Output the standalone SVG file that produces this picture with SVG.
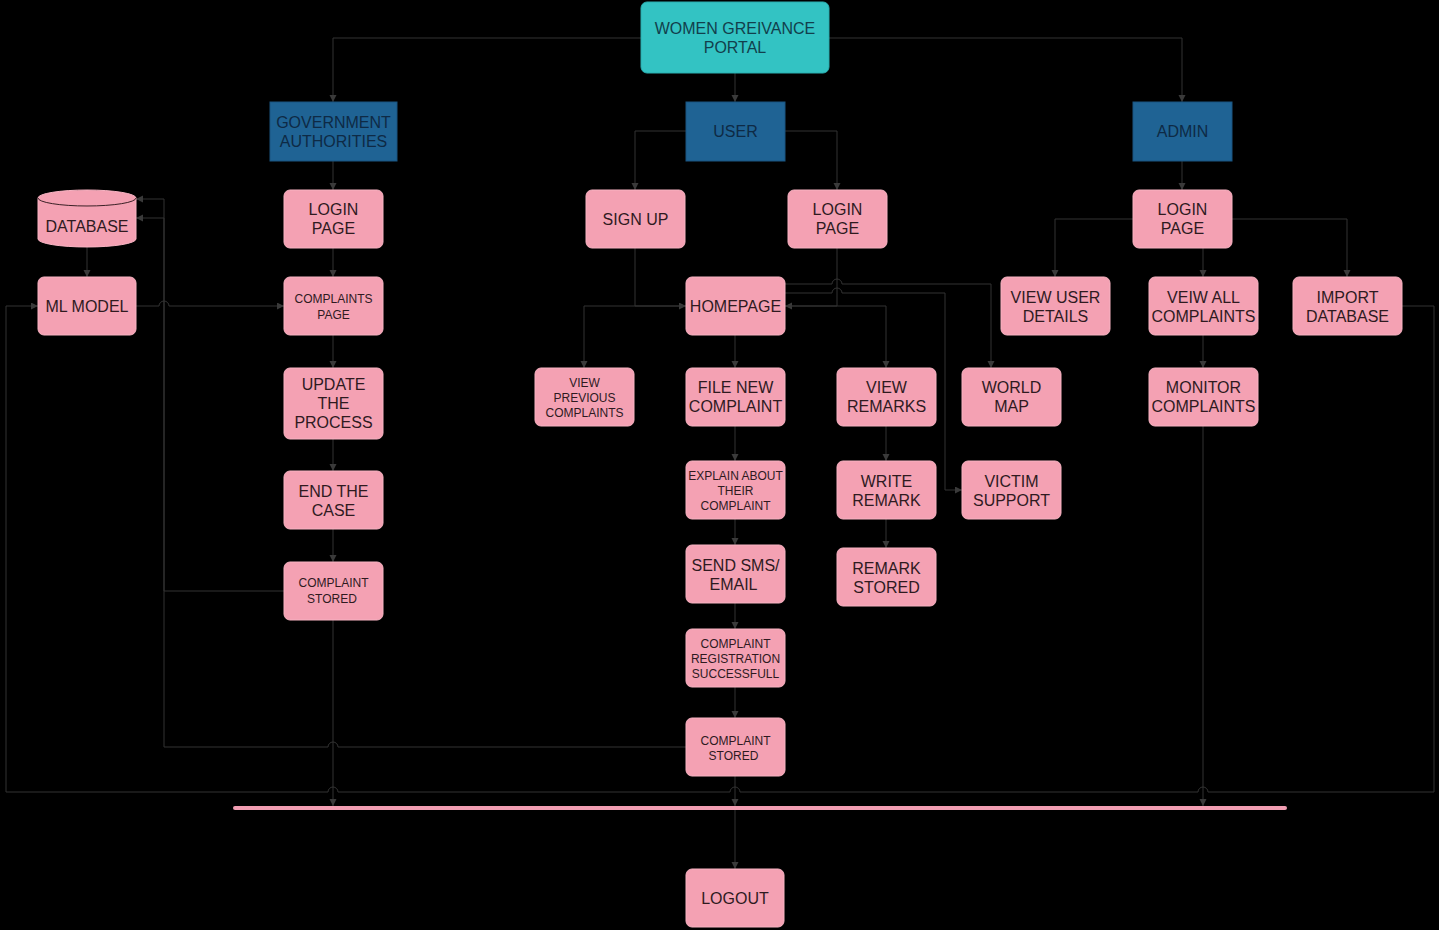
<svg xmlns="http://www.w3.org/2000/svg" width="1439" height="930" viewBox="0 0 1439 930">
<defs>
<marker id="arr" markerUnits="userSpaceOnUse" markerWidth="8" markerHeight="8" refX="7" refY="3.5" orient="auto">
<path d="M0,0 L7,3.5 L0,7 z" fill="#3a3a3a"/>
</marker>
<style>
.bg{fill:#000}
.pk{fill:#f4a1b3;stroke:#f7b3c2;stroke-width:1}
.tl{fill:#33c3c3;stroke:#2aaeb0;stroke-width:1}
.bl{fill:#1f6394;stroke:#1a5580;stroke-width:1}
.t{font-family:"Liberation Sans",Arial,sans-serif;font-size:16px;fill:#2f1a1f;text-anchor:middle}
.s{font-family:"Liberation Sans",Arial,sans-serif;font-size:12px;fill:#2f1a1f;text-anchor:middle}
.tt{fill:#123f4c}
.tb{fill:#0e2a45}
.c{fill:none;stroke:#333;stroke-width:1}
.a{marker-end:url(#arr)}
</style>
</defs>
<rect class="bg" x="0" y="0" width="1439" height="930"/>

<g id="connectors">
<path class="c a" d="M641,38 H333 V102"/>
<path class="c a" d="M735,73 V102"/>
<path class="c a" d="M829,38 H1182 V102"/>
<path class="c a" d="M333,161 V190"/>
<path class="c a" d="M333,248 V277"/>
<path class="c a" d="M333,335 V368"/>
<path class="c a" d="M333,439 V471"/>
<path class="c a" d="M333,529 V562"/>
<path class="c a" d="M284,591 H164 V218 H136"/>
<path class="c a" d="M686,747 H338 A5,5 0 0 0 328,747 H164 V199 H136"/>
<path class="c a" d="M87,247 V277"/>
<path class="c a" d="M136,306 H159 A5,5 0 0 1 169,306 H284"/>
<path class="c a" d="M1402,306 H1434 V792 H1208 A5,5 0 0 0 1198,792 H740 A5,5 0 0 0 730,792 H338 A5,5 0 0 0 328,792 H6 V306 H38"/>
<path class="c a" d="M333,620 V806"/>
<path class="c a" d="M735,776 V806"/>
<path class="c a" d="M1203,426 V806"/>
<path class="c a" d="M735,810 V869"/>
<path class="c a" d="M686,131 H635 V190"/>
<path class="c a" d="M785,131 H837 V190"/>
<path class="c a" d="M635,248 V306 H686"/>
<path class="c a" d="M837,248 V306 H785"/>
<path class="c a" d="M686,306 H584 V368"/>
<path class="c a" d="M785,306 H886 V368"/>
<path class="c a" d="M785,284 H832 A5,5 0 0 1 842,284 H991 V368"/>
<path class="c a" d="M785,293 H832 A5,5 0 0 1 842,293 H945 V490 H962"/>
<path class="c a" d="M735,335 V368"/>
<path class="c a" d="M735,426 V461"/>
<path class="c a" d="M735,519 V545"/>
<path class="c a" d="M735,603 V629"/>
<path class="c a" d="M735,687 V718"/>
<path class="c a" d="M886,426 V461"/>
<path class="c a" d="M886,519 V548"/>
<path class="c a" d="M1182,161 V190"/>
<path class="c a" d="M1133,219 H1055 V277"/>
<path class="c a" d="M1203,248 V277"/>
<path class="c a" d="M1232,219 H1347 V277"/>
<path class="c a" d="M1203,335 V368"/>
</g>

<g id="bar"><line x1="235" y1="808" x2="1285" y2="808" stroke="#f19db2" stroke-width="4" stroke-linecap="round"/></g>

<g id="portal"><rect class="tl" x="641" y="2" width="188" height="71" rx="6"/><text class="t tt" x="735" y="34">WOMEN GREIVANCE</text><text class="t tt" x="735" y="53">PORTAL</text></g>
<g id="gov"><rect class="bl" x="270" y="102" width="127" height="59"/><text class="t tb" x="333.5" y="128">GOVERNMENT</text><text class="t tb" x="333.5" y="147">AUTHORITIES</text></g>
<g id="user"><rect class="bl" x="686" y="102" width="99" height="59"/><text class="t tb" x="735.5" y="137">USER</text></g>
<g id="admin"><rect class="bl" x="1133" y="102" width="99" height="59"/><text class="t tb" x="1182.5" y="137">ADMIN</text></g>

<g id="gov-login"><rect class="pk" x="284" y="190" width="99" height="58" rx="6"/><text class="t" x="333.5" y="215">LOGIN</text><text class="t" x="333.5" y="234">PAGE</text></g>
<g id="complaints-page"><rect class="pk" x="284" y="277" width="99" height="58" rx="6"/><text class="s" x="333.5" y="303">COMPLAINTS</text><text class="s" x="333.5" y="319">PAGE</text></g>
<g id="update"><rect class="pk" x="284" y="368" width="99" height="71" rx="6"/><text class="t" x="333.5" y="390">UPDATE</text><text class="t" x="333.5" y="409">THE</text><text class="t" x="333.5" y="428">PROCESS</text></g>
<g id="end-case"><rect class="pk" x="284" y="471" width="99" height="58" rx="6"/><text class="t" x="333.5" y="497">END THE</text><text class="t" x="333.5" y="516">CASE</text></g>
<g id="gov-stored"><rect class="pk" x="284" y="562" width="99" height="58" rx="6"/><text class="s" x="333.5" y="587">COMPLAINT</text><text class="s" x="332" y="603">STORED</text></g>

<g id="database">
<path class="pk" d="M38,198 A49,8 0 0 1 136,198 V239 A49,8 0 0 1 38,239 Z"/>
<path d="M38,198 A49,8 0 0 0 136,198" fill="none" stroke="#3a2025" stroke-width="1"/>
<text class="t" x="87" y="232">DATABASE</text>
</g>
<g id="ml-model"><rect class="pk" x="38" y="277" width="98" height="58" rx="6"/><text class="t" x="87" y="312">ML MODEL</text></g>

<g id="signup"><rect class="pk" x="586" y="190" width="99" height="58" rx="6"/><text class="t" x="635.5" y="225">SIGN UP</text></g>
<g id="user-login"><rect class="pk" x="788" y="190" width="99" height="58" rx="6"/><text class="t" x="837.5" y="215">LOGIN</text><text class="t" x="837.5" y="234">PAGE</text></g>
<g id="homepage"><rect class="pk" x="686" y="277" width="99" height="58" rx="6"/><text class="t" x="735.5" y="312">HOMEPAGE</text></g>
<g id="view-previous"><rect class="pk" x="535" y="368" width="99" height="58" rx="6"/><text class="s" x="584.5" y="387">VIEW</text><text class="s" x="584.5" y="402">PREVIOUS</text><text class="s" x="584.5" y="417">COMPLAINTS</text></g>
<g id="file-new"><rect class="pk" x="686" y="368" width="99" height="58" rx="6"/><text class="t" x="735.5" y="393">FILE NEW</text><text class="t" x="735.5" y="412">COMPLAINT</text></g>
<g id="view-remarks"><rect class="pk" x="837" y="368" width="99" height="58" rx="6"/><text class="t" x="886.5" y="393">VIEW</text><text class="t" x="886.5" y="412">REMARKS</text></g>
<g id="world-map"><rect class="pk" x="962" y="368" width="99" height="58" rx="6"/><text class="t" x="1011.5" y="393">WORLD</text><text class="t" x="1011.5" y="412">MAP</text></g>
<g id="explain"><rect class="pk" x="686" y="461" width="99" height="58" rx="6"/><text class="s" x="735.5" y="480">EXPLAIN ABOUT</text><text class="s" x="735.5" y="495">THEIR</text><text class="s" x="735.5" y="510">COMPLAINT</text></g>
<g id="write-remark"><rect class="pk" x="837" y="461" width="99" height="58" rx="6"/><text class="t" x="886.5" y="487">WRITE</text><text class="t" x="886.5" y="506">REMARK</text></g>
<g id="victim-support"><rect class="pk" x="962" y="461" width="99" height="58" rx="6"/><text class="t" x="1011.5" y="487">VICTIM</text><text class="t" x="1011.5" y="506">SUPPORT</text></g>
<g id="send-sms"><rect class="pk" x="686" y="545" width="99" height="58" rx="6"/><text class="t" x="735.5" y="571">SEND SMS/</text><text class="t" x="733.5" y="590">EMAIL</text></g>
<g id="remark-stored"><rect class="pk" x="837" y="548" width="99" height="58" rx="6"/><text class="t" x="886.5" y="574">REMARK</text><text class="t" x="886.5" y="593">STORED</text></g>
<g id="registration"><rect class="pk" x="686" y="629" width="99" height="58" rx="6"/><text class="s" x="735.5" y="648">COMPLAINT</text><text class="s" x="735.5" y="663">REGISTRATION</text><text class="s" x="735.5" y="678">SUCCESSFULL</text></g>
<g id="user-stored"><rect class="pk" x="686" y="718" width="99" height="58" rx="6"/><text class="s" x="735.5" y="745">COMPLAINT</text><text class="s" x="733.5" y="760">STORED</text></g>
<g id="logout"><rect class="pk" x="686" y="869" width="98" height="58" rx="6"/><text class="t" x="735" y="904">LOGOUT</text></g>

<g id="admin-login"><rect class="pk" x="1133" y="190" width="99" height="58" rx="6"/><text class="t" x="1182.5" y="215">LOGIN</text><text class="t" x="1182.5" y="234">PAGE</text></g>
<g id="view-user-details"><rect class="pk" x="1001" y="277" width="109" height="58" rx="6"/><text class="t" x="1055.5" y="303">VIEW USER</text><text class="t" x="1055.5" y="322">DETAILS</text></g>
<g id="view-all"><rect class="pk" x="1149" y="277" width="109" height="58" rx="6"/><text class="t" x="1203.5" y="303">VEIW ALL</text><text class="t" x="1203.5" y="322">COMPLAINTS</text></g>
<g id="import-db"><rect class="pk" x="1293" y="277" width="109" height="58" rx="6"/><text class="t" x="1347.5" y="303">IMPORT</text><text class="t" x="1347.5" y="322">DATABASE</text></g>
<g id="monitor"><rect class="pk" x="1149" y="368" width="109" height="58" rx="6"/><text class="t" x="1203.5" y="393">MONITOR</text><text class="t" x="1203.5" y="412">COMPLAINTS</text></g>
</svg>
